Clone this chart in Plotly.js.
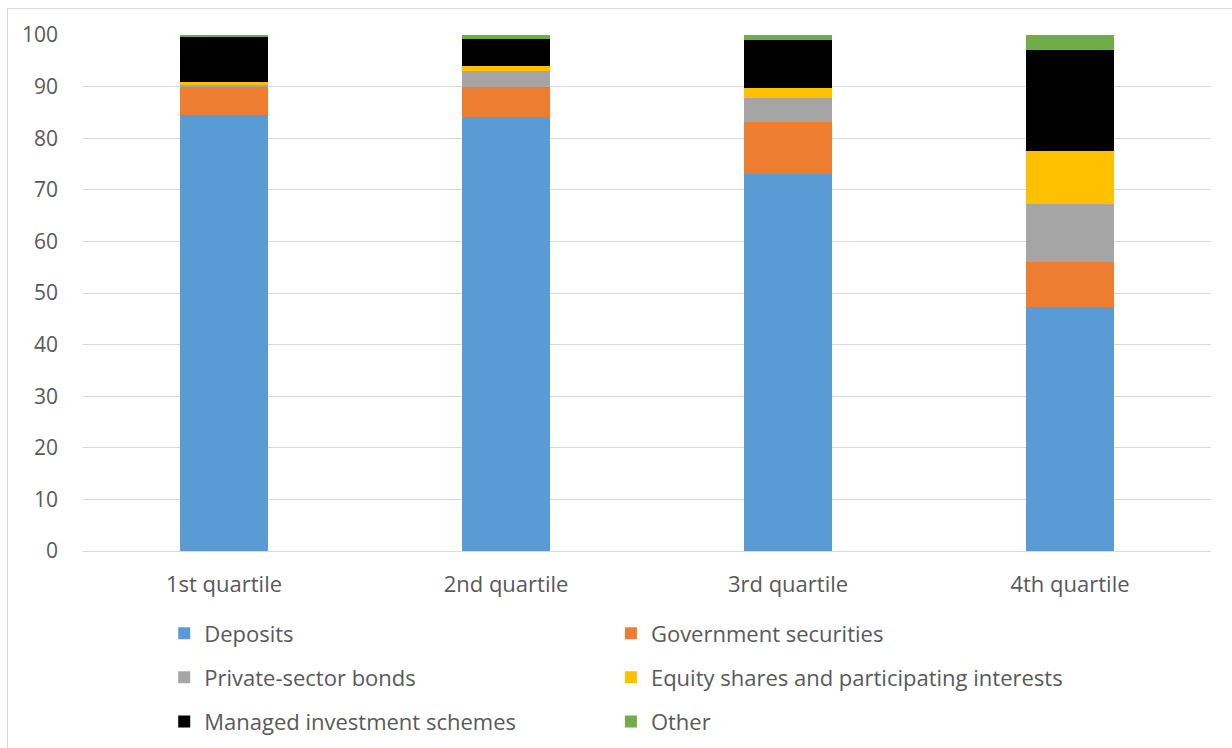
<!DOCTYPE html>
<html>
<head>
<meta charset="utf-8">
<script src="https://cdn.plot.ly/plotly-3.0.1.min.js"></script>
<style>
  html, body { margin: 0; padding: 0; background: #fff; }
  #chart { width: 1232px; height: 748px; }
  #frame { position: absolute; left: 7px; top: 8px; width: 1240px; height: 760px; border: 1px solid #D9D9D9; pointer-events: none; }
</style>
</head>
<body>
<div id="chart"></div>
<div id="frame"></div>
<script>
const categories = ["1st quartile", "2nd quartile", "3rd quartile", "4th quartile"];
const deposits = [84.5, 84.1, 73.1, 47.3];
const govSecurities = [5.6, 5.9, 10.0, 8.8];
const privateBonds = [0.2, 3.0, 4.6, 11.2];
const equityShares = [0.6, 0.9, 2.1, 10.3];
const managedSchemes = [8.8, 5.3, 9.3, 19.4];
const other = [0.3, 0.8, 0.9, 3.0];
const seriesNames = ["Deposits", "Government securities", "Private-sector bonds",
  "Equity shares and participating interests", "Managed investment schemes", "Other"];
const yTicks = [0, 10, 20, 30, 40, 50, 60, 70, 80, 90, 100];

const seriesValues = [deposits, govSecurities, privateBonds, equityShares, managedSchemes, other];
const colors = ["#5B9BD5", "#ED7D31", "#A5A5A5", "#FFC000", "#000000", "#70AD47"];
const legendOf = ["legend", "legend2", "legend", "legend2", "legend", "legend2"];

const traces = seriesValues.map((vals, i) => ({
  type: "bar",
  name: seriesNames[i],
  x: categories,
  y: vals,
  marker: { color: colors[i], line: { width: 0 } },
  legend: legendOf[i],
  legendgroup: "g" + i,
  hoverinfo: "x+y+name"
}));

const legendFont = { family: "Open Sans, sans-serif", size: 22, color: "#595959" };
const layout = {
  width: 1232, height: 748,
  margin: { l: 83, r: 21, t: 35, b: 197, autoexpand: false },
  paper_bgcolor: "#ffffff",
  plot_bgcolor: "#ffffff",
  barmode: "stack",
  bargap: 0.69,
  showlegend: true,
  font: { family: "Open Sans, sans-serif", color: "#595959" },
  xaxis: {
    type: "category",
    tickfont: { family: "Open Sans, sans-serif", size: 22, color: "#595959" },
    showgrid: false,
    showline: true,
    linecolor: "#D9D9D9",
    linewidth: 1,
    ticks: "",
    ticklabelstandoff: 14,
    automargin: false,
    fixedrange: true
  },
  yaxis: {
    range: [0, 100],
    tickvals: yTicks,
    ticktext: yTicks.map(String),
    tickfont: { family: "Open Sans, sans-serif", size: 21, color: "#595959" },
    showgrid: true,
    gridcolor: "#D9D9D9",
    gridwidth: 1,
    zeroline: false,
    showline: false,
    ticks: "",
    ticklabelstandoff: 24,
    automargin: false,
    fixedrange: true
  },
  legend: {
    x: 0.072, xanchor: "left", y: -0.119, yanchor: "top",
    orientation: "v", traceorder: "grouped", tracegroupgap: 12.5,
    font: legendFont, bgcolor: "rgba(0,0,0,0)"
  },
  legend2: {
    x: 0.468, xanchor: "left", y: -0.119, yanchor: "top",
    orientation: "v", traceorder: "grouped", tracegroupgap: 12.5,
    font: legendFont, bgcolor: "rgba(0,0,0,0)"
  }
};

Plotly.newPlot("chart", traces, layout, { displayModeBar: false });
</script>
</body>
</html>
